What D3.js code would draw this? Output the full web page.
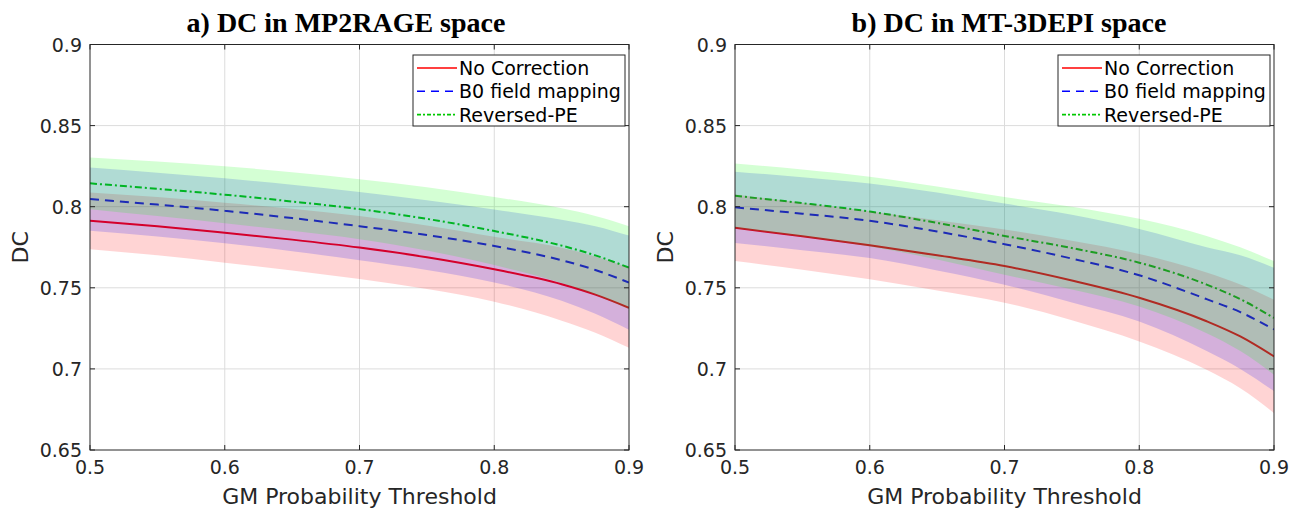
<!DOCTYPE html>
<html>
<head>
<meta charset="utf-8">
<script src="https://cdn.jsdelivr.net/npm/d3@7"></script>
<style>
  html, body { margin: 0; padding: 0; background: #fff; }
  svg { display: block; }
</style>
</head>
<body>
<svg id="chart" width="1299" height="511"></svg>
<script>
// ---------- DATA ----------
const thresholds = [0.5, 0.55, 0.6, 0.65, 0.7, 0.75, 0.8, 0.85, 0.875, 0.9];
const xTicks = [0.5, 0.6, 0.7, 0.8, 0.9];
const yTicks = [0.65, 0.7, 0.75, 0.8, 0.85, 0.9];
const seriesNames = ["No Correction", "B0 field mapping", "Reversed-PE"];
const panelTitles = ["a) DC in MP2RAGE space", "b) DC in MT-3DEPI space"];

// Panel a) MP2RAGE space: mean and SD per threshold
const mp2NoCorr     = [0.7913, 0.7880, 0.7840, 0.7797, 0.7748, 0.7688, 0.7614, 0.7522, 0.7458, 0.7377];
const mp2NoCorrSD   = [0.0175, 0.0180, 0.0185, 0.0190, 0.0194, 0.0196, 0.0200, 0.0225, 0.0235, 0.0247];
const mp2B0         = [0.8047, 0.8013, 0.7975, 0.7930, 0.7880, 0.7825, 0.7758, 0.7670, 0.7610, 0.7532];
const mp2B0SD       = [0.0195, 0.0197, 0.0200, 0.0205, 0.0210, 0.0215, 0.0225, 0.0250, 0.0270, 0.0290];
const mp2RevPE      = [0.8144, 0.8110, 0.8074, 0.8032, 0.7985, 0.7925, 0.7850, 0.7760, 0.7700, 0.7624];
const mp2RevPESD    = [0.0160, 0.0168, 0.0176, 0.0180, 0.0185, 0.0195, 0.0210, 0.0230, 0.0243, 0.0256];

// Panel b) MT-3DEPI space
const mtNoCorr      = [0.7870, 0.7818, 0.7762, 0.7700, 0.7634, 0.7545, 0.7439, 0.7294, 0.7200, 0.7077];
const mtNoCorrSD    = [0.0205, 0.0207, 0.0210, 0.0217, 0.0226, 0.0245, 0.0270, 0.0300, 0.0320, 0.0350];
const mtB0          = [0.7996, 0.7957, 0.7913, 0.7847, 0.7769, 0.7680, 0.7577, 0.7430, 0.7350, 0.7243];
const mtB0SD        = [0.0220, 0.0225, 0.0230, 0.0240, 0.0250, 0.0270, 0.0285, 0.0320, 0.0350, 0.0380];
const mtRevPE       = [0.8067, 0.8022, 0.7970, 0.7900, 0.7820, 0.7745, 0.7655, 0.7520, 0.7430, 0.7314];
const mtRevPESD     = [0.0200, 0.0207, 0.0215, 0.0225, 0.0240, 0.0255, 0.0270, 0.0300, 0.0320, 0.0350];

// ---------- STYLE ----------
const lineColors = ["#ff0000", "#0000ff", "#00c800"];
const bandColors = ["#ff0000", "#0000ff", "#00ff00"];
const dashes = [null, "9,6", "7,3,2,3"];
const legendDashes = [null, "8,6", "4,2,2,2"];
const bandAlpha = 0.17;

const panels = [
  { title: panelTitles[0], x0: 90, x1: 629, titleX: 346,
    means: [mp2NoCorr, mp2B0, mp2RevPE], sds: [mp2NoCorrSD, mp2B0SD, mp2RevPESD] },
  { title: panelTitles[1], x0: 735, x1: 1274, titleX: 1009,
    means: [mtNoCorr, mtB0, mtRevPE], sds: [mtNoCorrSD, mtB0SD, mtRevPESD] }
];
const yTop = 44.5, yBot = 450;
const axisColor = "#262626";
const fontSans = "'DejaVu Sans', sans-serif";

const svg = d3.select("#chart");

panels.forEach(p => {
  const x = d3.scaleLinear().domain([0.5, 0.9]).range([p.x0, p.x1]);
  const y = d3.scaleLinear().domain([0.65, 0.9]).range([yBot, yTop]);
  const g = svg.append("g");

  // grid
  g.append("g").selectAll("line").data(xTicks.slice(1, -1)).join("line")
    .attr("x1", d => x(d)).attr("x2", d => x(d)).attr("y1", yTop).attr("y2", yBot)
    .attr("stroke", "#dcdcdc").attr("stroke-width", 1);
  g.append("g").selectAll("line").data(yTicks.slice(1, -1)).join("line")
    .attr("y1", d => y(d)).attr("y2", d => y(d)).attr("x1", p.x0).attr("x2", p.x1)
    .attr("stroke", "#dcdcdc").attr("stroke-width", 1);

  const clipId = "clip" + p.x0;
  svg.append("defs").append("clipPath").attr("id", clipId)
    .append("rect").attr("x", p.x0).attr("y", yTop).attr("width", p.x1 - p.x0).attr("height", yBot - yTop);
  const plot = g.append("g").attr("clip-path", `url(#${clipId})`);

  // mean lines
  p.means.forEach((m, i) => {
    const line = d3.line().x((d, j) => x(thresholds[j])).y(d => y(d)).curve(d3.curveMonotoneX);
    plot.append("path").datum(m).attr("d", line)
      .attr("fill", "none").attr("stroke", lineColors[i]).attr("stroke-width", 2)
      .attr("stroke-dasharray", dashes[i]);
  });

  // SD bands drawn over lines (semi-transparent)
  p.means.forEach((m, i) => {
    const sd = p.sds[i];
    const area = d3.area().x((d, j) => x(thresholds[j]))
      .y0((d, j) => y(d - sd[j])).y1((d, j) => y(d + sd[j])).curve(d3.curveMonotoneX);
    plot.append("path").datum(m).attr("d", area)
      .attr("fill", bandColors[i]).attr("fill-opacity", bandAlpha).attr("stroke", "none");
  });

  // axes box
  g.append("rect").attr("x", p.x0).attr("y", yTop).attr("width", p.x1 - p.x0).attr("height", yBot - yTop)
    .attr("fill", "none").attr("stroke", axisColor).attr("stroke-width", 1);

  // ticks (inward, all 4 sides)
  const tl = 5;
  xTicks.forEach(t => {
    g.append("line").attr("x1", x(t)).attr("x2", x(t)).attr("y1", yBot).attr("y2", yBot - tl).attr("stroke", axisColor);
    g.append("line").attr("x1", x(t)).attr("x2", x(t)).attr("y1", yTop).attr("y2", yTop + tl).attr("stroke", axisColor);
  });
  yTicks.forEach(t => {
    g.append("line").attr("y1", y(t)).attr("y2", y(t)).attr("x1", p.x0).attr("x2", p.x0 + tl).attr("stroke", axisColor);
    g.append("line").attr("y1", y(t)).attr("y2", y(t)).attr("x1", p.x1).attr("x2", p.x1 - tl).attr("stroke", axisColor);
  });

  // tick labels
  g.append("g").selectAll("text").data(xTicks).join("text")
    .attr("x", d => x(d)).attr("y", yBot + 24)
    .attr("text-anchor", "middle").attr("font-family", fontSans).attr("font-size", 19)
    .attr("fill", axisColor).text(d => d3.format(".1f")(d));
  g.append("g").selectAll("text").data(yTicks).join("text")
    .attr("x", p.x0 - 8).attr("y", d => y(d) + 7)
    .attr("text-anchor", "end").attr("font-family", fontSans).attr("font-size", 19)
    .attr("fill", axisColor).text(d => String(+d.toFixed(2)));

  // axis labels
  g.append("text").attr("x", (p.x0 + p.x1) / 2).attr("y", 504)
    .attr("text-anchor", "middle").attr("font-family", fontSans).attr("font-size", 22)
    .attr("fill", axisColor).text("GM Probability Threshold");
  g.append("text").attr("transform", `translate(${p.x0 - 62},${(yTop + yBot) / 2}) rotate(-90)`)
    .attr("text-anchor", "middle").attr("font-family", fontSans).attr("font-size", 22)
    .attr("fill", axisColor).text("DC");

  // title
  g.append("text").attr("x", p.titleX).attr("y", 32)
    .attr("text-anchor", "middle").attr("font-family", "'Liberation Serif', 'Times New Roman', serif")
    .attr("font-weight", "bold").attr("font-size", 28).attr("fill", "#000").text(p.title);

  // legend
  const lw = 212, lh = 71;
  const lx = p.x1 - 4 - lw, ly = 55;
  const lg = g.append("g");
  lg.append("rect").attr("x", lx).attr("y", ly).attr("width", lw).attr("height", lh)
    .attr("fill", "#fff").attr("stroke", axisColor).attr("stroke-width", 1);
  seriesNames.forEach((name, i) => {
    const cy = ly + 13 + i * 23.3;
    lg.append("line").attr("x1", lx + 4).attr("x2", lx + 44).attr("y1", cy).attr("y2", cy)
      .attr("stroke", lineColors[i]).attr("stroke-width", 1.6).attr("stroke-dasharray", legendDashes[i]);
    lg.append("text").attr("x", lx + 46).attr("y", cy + 7)
      .attr("font-family", fontSans).attr("font-size", 19).attr("fill", "#000").text(name);
  });
});
</script>
</body>
</html>
